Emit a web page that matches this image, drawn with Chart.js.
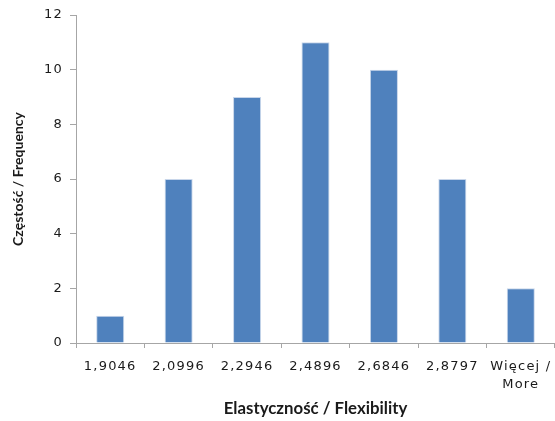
<!DOCTYPE html>
<html>
<head>
<meta charset="utf-8">
<script src="https://cdn.jsdelivr.net/npm/chart.js@4"></script>
<style>
  html, body { margin: 0; padding: 0; background: #fff; }
  #wrap { width: 555px; height: 421px; }
</style>
</head>
<body>
<div id="wrap"><canvas id="c" width="555" height="421"></canvas></div>
<script>
// Histogram of flexibility measurements
const categories = ['1,9046', '2,0996', '2,2946', '2,4896', '2,6846', '2,8797', ['Więcej /', 'More']];
const frequencies = [1, 6, 9, 11, 10, 6, 2];
const yTicks = [0, 2, 4, 6, 8, 10, 12];

const axisGray = '#a6a6a6';
const textColor = '#1a1a1a';

// Wider tracking for the tick labels only
const tracking = {
  id: 'tracking',
  beforeDraw(chart) {
    Object.values(chart.scales).forEach(s => {
      if (s._tracked) return;
      const orig = s.drawLabels;
      s.drawLabels = function (area) {
        const c = this.ctx;
        c.save();
        c.letterSpacing = '1.2px';
        orig.call(this, area);
        c.restore();
      };
      s._tracked = true;
    });
  }
};

new Chart(document.getElementById('c'), {
  type: 'bar',
  data: {
    labels: categories,
    datasets: [{
      data: frequencies,
      backgroundColor: '#4f81bd',
      borderColor: '#c8d6ea',
      borderWidth: 1,
      barPercentage: 0.41,
      categoryPercentage: 1.0
    }]
  },
  plugins: [tracking],
  options: {
    responsive: false,
    animation: false,
    devicePixelRatio: 1,
    layout: { padding: { top: 15, right: 0, left: 0, bottom: 0 } },
    plugins: { legend: { display: false }, tooltip: { enabled: false } },
    scales: {
      x: {
        grid: { display: true, drawOnChartArea: false, color: axisGray, tickLength: 5, offset: true },
        border: { color: axisGray, width: 1 },
        ticks: {
          color: textColor,
          font: { family: 'DejaVu Sans', size: 13, lineHeight: 1.35 },
          padding: 10,
          maxRotation: 0,
          autoSkip: false
        },
        title: {
          display: true,
          text: 'Elastyczność / Flexibility',
          color: textColor,
          font: { family: 'Lato', size: 16.8, weight: 'bold' },
          padding: { top: 4, bottom: 2 }
        },
        afterFit: (s) => { s.height = 78; s.paddingLeft = 0; s.paddingRight = 0; }
      },
      y: {
        min: 0,
        max: 12,
        afterBuildTicks: (s) => { s.ticks = yTicks.map(v => ({ value: v })); },
        grid: { display: true, drawOnChartArea: false, color: axisGray, tickLength: 6 },
        border: { color: axisGray, width: 1 },
        ticks: {
          color: textColor,
          font: { family: 'DejaVu Sans', size: 13 },
          padding: 7
        },
        title: {
          display: true,
          text: 'Częstość / Frequency',
          color: textColor,
          font: { family: 'Lato', size: 14, weight: 'bold' },
          padding: { top: 10, bottom: 0 }
        },
        afterFit: (s) => { s.width = 76; s.paddingTop = 0; s.paddingBottom = 0; }
      }
    }
  }
});
</script>
</body>
</html>
